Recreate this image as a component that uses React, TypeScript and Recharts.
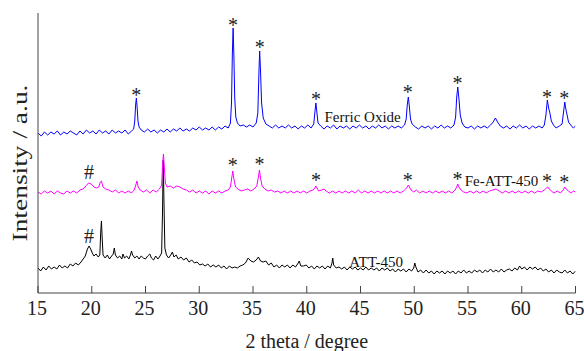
import React from 'react';
import { LineChart, Line, XAxis, YAxis, ReferenceDot } from 'recharts';

// XRD patterns: [2 theta, intensity (offset, a.u.)]
const ferricOxide: [number, number][] = [
  [15.0, 160], [15.3, 157], [15.6, 161], [15.9, 158], [16.2, 161], [16.5, 159], [16.8, 162], [17.1, 158],
  [17.4, 161], [17.7, 159], [18.0, 162], [18.3, 160], [18.6, 158], [18.9, 162], [19.2, 159], [19.5, 163],
  [19.8, 160], [20.1, 162], [20.4, 159], [20.7, 163], [21.0, 160], [21.3, 162], [21.6, 159], [21.9, 163],
  [22.2, 160], [22.5, 162], [22.8, 160], [23.1, 163], [23.4, 159], [23.7, 162], [23.9, 164], [24.0, 172],
  [24.08, 188], [24.15, 195], [24.22, 186], [24.3, 172], [24.4, 166], [24.6, 163], [24.9, 161], [25.2, 164],
  [25.5, 161], [25.8, 163], [26.1, 160], [26.4, 163], [26.7, 161], [27.0, 164], [27.3, 161], [27.6, 164],
  [27.9, 162], [28.2, 165], [28.5, 162], [28.8, 164], [29.1, 162], [29.4, 165], [29.7, 163], [30.0, 166],
  [30.3, 163], [30.6, 165], [30.9, 163], [31.2, 166], [31.5, 163], [31.8, 166], [32.1, 164], [32.4, 167],
  [32.7, 165], [32.9, 170], [33.0, 190], [33.08, 240], [33.15, 265], [33.22, 238], [33.3, 195], [33.4, 176],
  [33.55, 170], [33.8, 167], [34.1, 168], [34.4, 166], [34.7, 168], [35.0, 166], [35.3, 170], [35.45, 180],
  [35.55, 220], [35.62, 242], [35.7, 222], [35.8, 190], [35.95, 175], [36.2, 169], [36.5, 167], [36.8, 165],
  [37.1, 168], [37.4, 165], [37.7, 167], [38.0, 165], [38.3, 168], [38.6, 165], [38.9, 167], [39.2, 164],
  [39.5, 167], [39.8, 165], [40.1, 168], [40.4, 165], [40.65, 169], [40.75, 180], [40.85, 190], [40.95, 180],
  [41.05, 170], [41.3, 167], [41.6, 164], [41.9, 167], [42.2, 165], [42.5, 168], [42.8, 164], [43.1, 167],
  [43.4, 165], [43.7, 167], [44.0, 164], [44.3, 167], [44.6, 165], [44.9, 168], [45.2, 165], [45.5, 167],
  [45.8, 164], [46.1, 167], [46.4, 165], [46.7, 168], [47.0, 165], [47.3, 167], [47.6, 164], [47.9, 167],
  [48.2, 165], [48.5, 167], [48.8, 165], [49.1, 168], [49.25, 174], [49.35, 188], [49.45, 196], [49.55, 186],
  [49.65, 174], [49.8, 169], [50.1, 166], [50.4, 164], [50.7, 167], [51.0, 165], [51.3, 167], [51.6, 164],
  [51.9, 167], [52.2, 165], [52.5, 168], [52.8, 165], [53.1, 167], [53.4, 165], [53.7, 168], [53.85, 176],
  [53.95, 196], [54.05, 206], [54.15, 195], [54.28, 178], [54.45, 170], [54.7, 166], [55.0, 165], [55.3, 167],
  [55.6, 164], [55.9, 167], [56.2, 165], [56.5, 167], [56.8, 165], [57.1, 168], [57.35, 171], [57.55, 175],
  [57.75, 171], [58.0, 167], [58.3, 165], [58.6, 167], [58.9, 164], [59.2, 167], [59.5, 165], [59.8, 168],
  [60.1, 165], [60.4, 167], [60.7, 164], [61.0, 167], [61.3, 165], [61.6, 167], [61.9, 165], [62.1, 168],
  [62.25, 178], [62.38, 193], [62.5, 185], [62.62, 180], [62.75, 172], [62.95, 168], [63.2, 165], [63.5, 167],
  [63.75, 169], [63.9, 182], [64.0, 191], [64.1, 184], [64.22, 178], [64.35, 171], [64.55, 168], [64.8, 165],
  [65.0, 167],
];

const feAtt450: [number, number][] = [
  [15.0, 101], [15.3, 99], [15.6, 102], [15.9, 100], [16.2, 102], [16.5, 99], [16.8, 102], [17.1, 100],
  [17.4, 99], [17.7, 102], [18.0, 100], [18.3, 102], [18.6, 100], [18.9, 103], [19.2, 104], [19.45, 107],
  [19.7, 110], [19.95, 109], [20.2, 106], [20.45, 105], [20.65, 106], [20.8, 111], [20.9, 112], [21.05, 106],
  [21.3, 104], [21.6, 103], [21.9, 101], [22.2, 103], [22.5, 100], [22.8, 102], [23.1, 100], [23.4, 102],
  [23.7, 100], [23.95, 103], [24.1, 108], [24.2, 112], [24.32, 106], [24.5, 103], [24.8, 101], [25.1, 103],
  [25.4, 100], [25.7, 103], [26.0, 101], [26.3, 104], [26.5, 108], [26.6, 130], [26.67, 139], [26.75, 126],
  [26.85, 110], [27.0, 106], [27.3, 107], [27.6, 105], [27.9, 107], [28.2, 106], [28.5, 104], [28.8, 103],
  [29.1, 101], [29.4, 103], [29.7, 100], [30.0, 102], [30.3, 100], [30.6, 102], [30.9, 99], [31.2, 102],
  [31.5, 100], [31.8, 102], [32.1, 100], [32.4, 102], [32.7, 103], [32.9, 106], [33.02, 115], [33.12, 122],
  [33.22, 114], [33.38, 106], [33.6, 104], [33.9, 102], [34.2, 103], [34.5, 104], [34.8, 102], [35.1, 104],
  [35.35, 107], [35.5, 116], [35.6, 123], [35.7, 115], [35.85, 107], [36.1, 104], [36.4, 102], [36.7, 103],
  [37.0, 101], [37.3, 102], [37.6, 100], [37.9, 102], [38.2, 100], [38.5, 102], [38.8, 100], [39.1, 102],
  [39.4, 100], [39.7, 102], [40.0, 100], [40.3, 102], [40.6, 103], [40.75, 105], [40.85, 107], [40.95, 105],
  [41.1, 102], [41.4, 103], [41.6, 104], [41.8, 102], [42.1, 100], [42.4, 102], [42.7, 100], [43.0, 102],
  [43.3, 100], [43.6, 102], [43.9, 100], [44.2, 102], [44.5, 100], [44.8, 103], [45.1, 100], [45.4, 102],
  [45.7, 100], [46.0, 102], [46.3, 100], [46.6, 102], [46.9, 100], [47.2, 102], [47.5, 100], [47.8, 102],
  [48.1, 100], [48.4, 102], [48.7, 100], [49.0, 102], [49.2, 104], [49.35, 106], [49.45, 108], [49.55, 106],
  [49.7, 103], [49.95, 101], [50.2, 103], [50.5, 100], [50.8, 102], [51.1, 100], [51.4, 102], [51.7, 100],
  [52.0, 102], [52.3, 100], [52.6, 102], [52.9, 100], [53.2, 102], [53.5, 100], [53.8, 103], [53.95, 106],
  [54.05, 109], [54.15, 106], [54.35, 103], [54.6, 101], [54.9, 100], [55.2, 102], [55.5, 100], [55.8, 102],
  [56.1, 100], [56.4, 102], [56.7, 100], [57.0, 102], [57.3, 103], [57.6, 104], [57.9, 102], [58.2, 100],
  [58.5, 102], [58.8, 100], [59.1, 102], [59.4, 100], [59.7, 102], [60.0, 100], [60.3, 102], [60.6, 100],
  [60.9, 102], [61.2, 100], [61.5, 102], [61.8, 101], [62.1, 103], [62.3, 105], [62.42, 106], [62.55, 104],
  [62.75, 102], [63.0, 100], [63.3, 102], [63.6, 100], [63.85, 103], [64.0, 106], [64.12, 104], [64.35, 102],
  [64.6, 100], [64.8, 102], [65.0, 101],
];

const att450: [number, number][] = [
  [15.0, 25], [15.25, 22], [15.5, 26], [15.75, 23], [16.0, 27], [16.25, 24], [16.5, 26], [16.75, 24],
  [17.0, 28], [17.25, 25], [17.5, 27], [17.75, 25], [18.0, 29], [18.25, 27], [18.5, 30], [18.75, 28],
  [19.0, 31], [19.2, 34], [19.4, 37], [19.6, 44], [19.75, 47], [19.9, 44], [20.05, 40], [20.2, 37],
  [20.4, 39], [20.6, 36], [20.75, 38], [20.83, 60], [20.9, 72], [20.97, 55], [21.05, 38], [21.25, 35],
  [21.45, 38], [21.65, 34], [21.85, 37], [22.0, 39], [22.1, 45], [22.2, 38], [22.4, 35], [22.6, 37],
  [22.8, 34], [22.9, 39], [23.05, 35], [23.25, 37], [23.45, 34], [23.6, 38], [23.7, 42], [23.8, 38],
  [24.0, 35], [24.2, 37], [24.4, 34], [24.6, 37], [24.8, 35], [25.0, 34], [25.2, 37], [25.4, 39],
  [25.55, 35], [25.75, 33], [25.95, 37], [26.15, 34], [26.35, 37], [26.5, 40], [26.58, 80], [26.65, 133],
  [26.72, 90], [26.8, 45], [26.95, 38], [27.15, 35], [27.35, 38], [27.5, 41], [27.65, 36], [27.85, 38],
  [28.05, 34], [28.3, 36], [28.55, 33], [28.8, 35], [29.05, 31], [29.3, 33], [29.55, 30], [29.8, 31],
  [30.05, 28], [30.3, 29], [30.55, 27], [30.8, 29], [31.05, 26], [31.3, 28], [31.55, 26], [31.8, 28],
  [32.05, 25], [32.3, 27], [32.55, 24], [32.8, 27], [33.05, 25], [33.3, 26], [33.55, 25], [33.8, 27],
  [34.05, 28], [34.3, 30], [34.55, 35], [34.8, 32], [35.05, 31], [35.3, 33], [35.5, 36], [35.7, 32],
  [35.95, 31], [36.2, 32], [36.45, 28], [36.7, 30], [36.95, 26], [37.2, 28], [37.45, 25], [37.7, 28],
  [37.95, 26], [38.2, 28], [38.45, 25], [38.7, 28], [38.95, 26], [39.15, 29], [39.3, 32], [39.45, 27],
  [39.7, 27], [39.95, 28], [40.2, 25], [40.45, 27], [40.7, 24], [40.95, 27], [41.2, 25], [41.45, 27],
  [41.7, 24], [41.95, 27], [42.2, 25], [42.35, 30], [42.42, 35], [42.5, 28], [42.75, 25], [43.0, 26],
  [43.25, 24], [43.5, 26], [43.75, 23], [44.0, 26], [44.25, 24], [44.5, 26], [44.75, 23], [45.0, 25],
  [45.25, 23], [45.5, 26], [45.75, 23], [46.0, 25], [46.25, 23], [46.5, 25], [46.75, 22], [47.0, 25],
  [47.25, 23], [47.5, 25], [47.75, 22], [48.0, 24], [48.25, 21], [48.5, 24], [48.75, 22], [49.0, 24],
  [49.25, 21], [49.5, 24], [49.75, 22], [49.95, 25], [50.05, 30], [50.15, 26], [50.35, 21], [50.6, 23],
  [50.85, 20], [51.1, 23], [51.35, 20], [51.6, 22], [51.85, 19], [52.1, 22], [52.35, 20], [52.6, 22],
  [52.85, 19], [53.1, 22], [53.35, 20], [53.6, 22], [53.85, 19], [54.1, 22], [54.35, 20], [54.6, 23],
  [54.85, 20], [55.1, 22], [55.35, 20], [55.6, 23], [55.85, 21], [56.1, 23], [56.35, 20], [56.6, 23],
  [56.85, 21], [57.1, 24], [57.35, 21], [57.6, 23], [57.85, 21], [58.1, 24], [58.35, 21], [58.6, 23],
  [58.85, 24], [59.1, 22], [59.35, 25], [59.6, 23], [59.8, 27], [60.0, 24], [60.25, 26], [60.5, 23],
  [60.75, 26], [61.0, 24], [61.25, 26], [61.5, 23], [61.75, 25], [62.0, 22], [62.25, 24], [62.5, 21],
  [62.75, 23], [63.0, 20], [63.25, 23], [63.5, 21], [63.75, 20], [64.0, 23], [64.25, 20], [64.5, 22],
  [64.75, 19], [65.0, 22],
];

const xTicks = [15, 20, 25, 30, 35, 40, 45, 50, 55, 60, 65];
const yTicks = [40, 80, 120, 160, 200, 240];

// peak markers: [2 theta, height, symbol]
const markers: [number, number, string][] = [
  [24.15, 200, '*'], [33.15, 270, '*'], [35.62, 248, '*'], [40.85, 196, '*'], [49.4, 203, '*'],
  [54.02, 212, '*'], [62.35, 198, '*'], [63.95, 197, '*'],
  [33.12, 130, '*'], [35.6, 131, '*'], [40.85, 115, '*'], [49.4, 115, '*'], [54.02, 116, '*'],
  [62.35, 114, '*'], [63.95, 113, '*'],
  [19.75, 121, '#'], [19.75, 57, '#'],
];

// sample names: [2 theta of text start, height, name]
const sampleLabels: [number, number, string][] = [
  [41.65, 176, 'Ferric Oxide'],
  [54.7, 112, 'Fe-ATT-450'],
  [43.96, 31, 'ATT-450'],
];

const toPoints = (rows: [number, number][]) => rows.map(([x, y]) => ({ x, y }));

const FONT = '"Liberation Serif", "Times New Roman", serif';

const XTick = ({ x, y, payload }: any) => (
  <text x={x - 1} y={y + 15} textAnchor="middle" fontSize={20} fontFamily={FONT} fill="#222">
    {payload.value}
  </text>
);

export default function App() {
  return (
    <div style={{ position: 'absolute', left: 0, top: 0, background: '#fff', fontFamily: FONT }}>
      <LineChart width={584} height={351} margin={{ top: 13, right: 8.5, bottom: 0, left: 0 }}>
        <XAxis
          type="number"
          dataKey="x"
          domain={[15, 65]}
          ticks={xTicks}
          allowDataOverflow
          height={58}
          tickSize={-7}
          tickMargin={14}
          stroke="#444"
          tick={<XTick />}
          label={({ viewBox }: any) => (
            <text
              x={viewBox.x + viewBox.width / 2}
              y={viewBox.y + 55}
              textAnchor="middle"
              fontSize={20}
              fontFamily={FONT}
              fill="#222"
            >
              2 theta / degree
            </text>
          )}
        />
        <YAxis
          type="number"
          domain={[0, 280]}
          ticks={yTicks}
          width={38}
          tickSize={-4}
          tick={false}
          stroke="#444"
          label={({ viewBox }: any) => (
            <text
              x={19.5}
              y={viewBox.y + 150}
              transform={`rotate(-90 19.5 ${viewBox.y + 150})`}
              textAnchor="middle"
              dominantBaseline="central"
              fontSize={20}
              fontFamily={FONT}
              fill="#222"
              textLength={157}
              lengthAdjust="spacingAndGlyphs"
            >
              Intensity / a.u.
            </text>
          )}
        />
        <Line data={toPoints(att450)} dataKey="y" stroke="#000" strokeWidth={1} dot={false} isAnimationActive={false} />
        <Line data={toPoints(feAtt450)} dataKey="y" stroke="#ff00ff" strokeWidth={1} dot={false} isAnimationActive={false} />
        <Line data={toPoints(ferricOxide)} dataKey="y" stroke="#0000ff" strokeWidth={1} dot={false} isAnimationActive={false} />
        {markers.map(([x, y, s], i) => (
          <ReferenceDot
            key={`m-${i}`}
            x={x}
            y={y}
            r={0}
            shape={(p: any) => (
              <text
                x={p.cx}
                y={p.cy + (s === '*' ? 9 : 7)}
                textAnchor="middle"
                fontSize={20}
                fontFamily={FONT}
                fill="#222"
              >
                {s}
              </text>
            )}
          />
        ))}
        {sampleLabels.map(([x, y, name], i) => (
          <ReferenceDot
            key={`l-${i}`}
            x={x}
            y={y}
            r={0}
            shape={(p: any) => (
              <text x={p.cx} y={p.cy + 5} fontSize={15} fontFamily={FONT} fill="#111">
                {name}
              </text>
            )}
          />
        ))}
      </LineChart>
    </div>
  );
}
